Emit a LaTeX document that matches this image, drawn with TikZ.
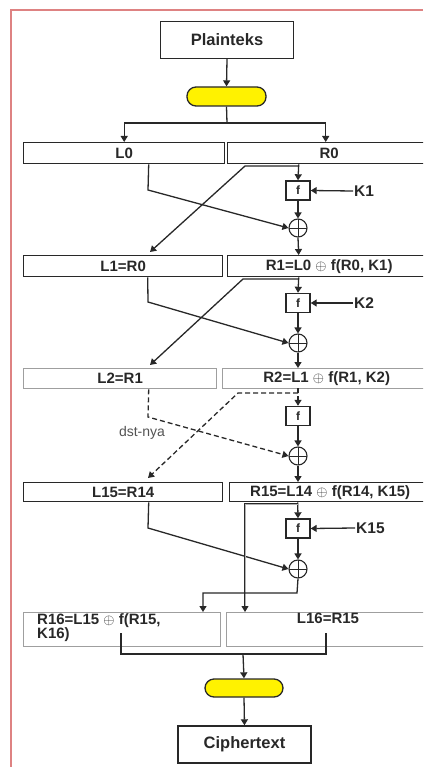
\documentclass[tikz,border=0pt]{standalone}
\usepackage{fontspec}
\setmainfont{Liberation Sans}
\usetikzlibrary{arrows.meta,calc}
\definecolor{frame}{RGB}{222,130,130}
\definecolor{ink}{RGB}{40,40,40}
\begin{document}
\begin{tikzpicture}[x=1pt,y=-1pt,
  ln/.style={draw=ink,line width=1.3pt},
  arr/.style={ln,-{Triangle[length=6pt,width=7pt]}},
  dsh/.style={arr,dash pattern=on 5pt off 3pt},
  blk/.style={draw=ink,line width=1.4pt,inner sep=0pt,anchor=north west,
    font=\bfseries\fontsize{15}{16}\selectfont,text=ink},
  gblk/.style={blk,draw=gray!75},
  term/.style={draw=ink,line width=1.4pt,inner sep=0pt,minimum width=133pt,
    minimum height=37pt,font=\bfseries\fontsize{16.5}{17}\selectfont,text=ink},
  pill/.style={draw=ink,line width=1.3pt,fill=yellow,rounded corners=9pt,
    minimum width=79pt,minimum height=19pt,inner sep=0pt},
  fbox/.style={draw=ink,line width=1.4pt,minimum width=24pt,minimum height=19pt,
    inner sep=0pt,font=\bfseries\fontsize{12}{12}\selectfont,text=ink},
  xor/.style={draw=ink,line width=1.1pt,circle,minimum size=18pt,inner sep=0pt,
    path picture={\draw[ink,line width=1pt]
      (path picture bounding box.north) -- (path picture bounding box.south)
      (path picture bounding box.west) -- (path picture bounding box.east);}},
  klab/.style={font=\bfseries\fontsize{15.5}{15.5}\selectfont,text=ink,anchor=west,inner sep=1pt}
]
\useasboundingbox (0,0) rectangle (423,767);
\clip (0,0) rectangle (423,767);
\draw[frame,line width=2pt] (10.5,767) -- (10.5,10.5) -- (423,10.5);

% top
\node[term] (plain) at (227,40) {Plainteks};
\node[pill] (pill1) at (226.5,96.5) {};
\draw[arr] (plain.south) -- (pill1.north);
\coordinate (split) at (227,123);
\node[blk,minimum width=201pt,minimum height=21pt] (L0) at (23,142) {L0};
\node[blk,minimum width=203pt,minimum height=21pt] (R0) at (227,142) {R0};
\draw[ln] (pill1.south) -- (split);
\draw[arr] (split) -| (L0.north);
\draw[arr] (split) -| ([xshift=-3.5pt]R0.north);

% round 1
\node[fbox] (f1) at (298,190.5) {f};
\node[xor] (x1) at (298,228) {};
\node[klab] (k1) at (353,191) {K1};
\node[blk,minimum width=199pt,minimum height=21pt] (L1) at (23,255) {L1=R0};
\node[blk,minimum width=203pt,minimum height=21pt] (R1) at (227,255) {R1=L0 $\oplus$ f(R0, K1)};
\draw[arr] ([xshift=-30.5pt]R0.south) -- (f1.north);
\draw[arr] (k1.west) -- (f1.east);
\draw[arr] (f1.south) -- (x1.north);
\draw[arr] (x1.south) -- ([xshift=-30.5pt]R1.north);
\coordinate (a1) at (148,190);
\draw[arr] ([xshift=24.5pt]L0.south) -- (a1) -- (x1.west);
\coordinate (b1s) at (298,166);
\coordinate (b1) at (245,166);
\coordinate (b1e) at (150,252);
\draw[arr] (b1s) -- (b1) -- (b1e);

% round 2
\node[fbox] (f2) at (298,303) {f};
\node[xor] (x2) at (298,343) {};
\node[klab] (k2) at (353,303) {K2};
\node[gblk,minimum width=193pt,minimum height=20pt] (L2) at (23,368) {L2=R1};
\node[gblk,minimum width=208pt,minimum height=20pt] (R2) at (222,368) {R2=L1 $\oplus$ f(R1, K2)};
\draw[arr] ([xshift=-30.5pt]R1.south) -- (f2.north);
\draw[arr] (k2.west) -- (f2.east);
\draw[arr] (f2.south) -- (x2.north);
\draw[arr] (x2.south) -- (298,368);
\coordinate (a2) at (148,302);
\draw[arr] ([xshift=24.5pt]L1.south) -- (a2) -- (x2.west);
\coordinate (b2s) at (298,279);
\coordinate (b2) at (243,279);
\coordinate (b2e) at (150,365);
\draw[arr] (b2s) -- (b2) -- (b2e);

% round 3 (dashed)
\node[fbox] (f3) at (298,416) {f};
\node[xor] (x3) at (298,456) {};
\node[blk,minimum width=199pt,minimum height=19pt] (L15) at (23,482) {L15=R14};
\node[blk,minimum width=201pt,minimum height=19pt] (R15) at (229,482) {R15=L14 $\oplus$ f(R14, K15)};
\draw[dsh] (298,388) -- (f3.north);
\draw[arr] (f3.south) -- (x3.north);
\draw[arr] (x3.south) -- (298,482);
\coordinate (a3) at (148,417);
\draw[dsh] ([xshift=28.5pt]L2.south) -- (a3) -- (x3.west);
\coordinate (b3s) at (298,393);
\coordinate (b3) at (238,393);
\coordinate (b3e) at (148,478);
\draw[dsh] (b3s) -- (b3) -- (b3e);
\node[font=\fontsize{14}{14}\selectfont,text=ink!80] (dst) at (142,433) {dst-nya};

% round 15
\node[fbox] (f15) at (298,528.5) {f};
\node[xor] (x15) at (298,569) {};
\node[klab] (k15) at (355,528) {K15};
\node[gblk,minimum width=197pt,minimum height=34pt] (R16) at (23,612) {};
\node[gblk,minimum width=204pt,minimum height=34pt] (L16) at (226,612) {};
\node[anchor=north west,inner sep=0pt,align=left,font=\bfseries\fontsize{15}{14.5}\selectfont,text=ink] (r16t) at (37,613) {R16=L15 $\oplus$ f(R15,\\K16)};
\node[anchor=north,inner sep=0pt,font=\bfseries\fontsize{15}{15}\selectfont,text=ink] (l16t) at (328,613) {L16=R15};
\draw[arr] ([xshift=-32.5pt]R15.south) -- (f15.north);
\draw[arr] (k15.west) -- (f15.east);
\draw[arr] (f15.south) -- (x15.north);
\coordinate (a15) at (148,528);
\draw[arr] ([xshift=25.5pt]L15.south) -- (a15) -- (x15.west);
\coordinate (b15s) at (298,504);
\coordinate (b15) at (245,504);
\draw[arr,double=gray!60,double distance=1pt,line width=0.9pt] (b15s) -- (b15) -- (b15 |- L16.north);
\coordinate (c15) at (297,593);
\draw[arr] (x15.south) -- (c15) -| (203,612);

% bottom
\coordinate (j1) at (121,633);
\coordinate (j2) at (326,633);
\coordinate (jm) at (243,654);
\node[pill,minimum width=78pt,minimum height=18pt] (pill2) at (244,688) {};
\node[term] (ciph) at (244.5,744.5) {Ciphertext};
\draw[ln] (j1) |- (jm) -| (j2);
\draw[arr] (jm) -- (pill2.north);
\draw[arr] (pill2.south) -- (ciph.north);
\end{tikzpicture}
\end{document}
